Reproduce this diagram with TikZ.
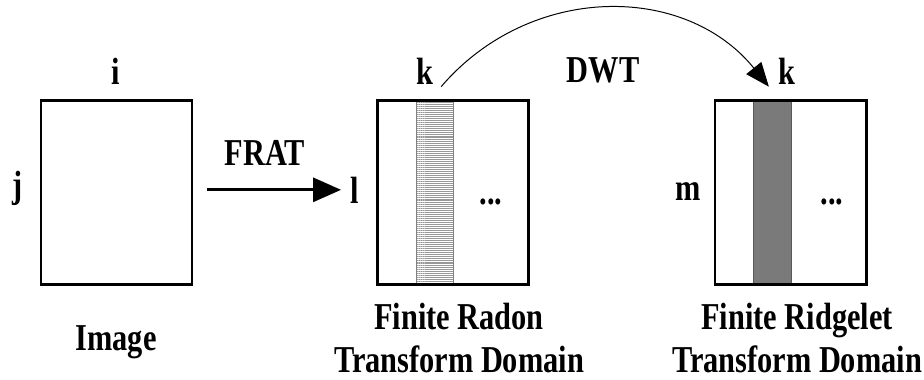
\documentclass[tikz,border=0pt]{standalone}
\usepackage{fontspec}
\setmainfont{Liberation Serif}[FakeStretch=0.8]
\usetikzlibrary{arrows.meta,patterns.meta}

\begin{document}
\begin{tikzpicture}[x=0.025cm, y=-0.025cm, font=\fontsize{27}{30}\selectfont\bfseries]
    \tikzset{
      grid box/.style={draw, line width=2.1pt, minimum width=3.775cm, minimum height=4.575cm, inner sep=0pt},
      idx label/.style={anchor=base, inner sep=1pt},
      caption/.style={align=center, anchor=base, inner sep=0pt},
      big arrow/.style={line width=2.1pt, -{Triangle[length=0.7cm, width=0.6cm]}},
      curve arrow/.style={line width=0.7pt, -{Triangle[length=0.6cm, width=0.48cm]}}
    }
    \useasboundingbox (0,0) rectangle (924,380);
    
    % Columns inside the transform domains
    \fill[pattern={Lines[angle=0, distance=1.4pt, line width=0.5pt]}, pattern color=gray!80] (416,101) rectangle (453,284);
    \draw[gray, line width=0.5pt] (416,101) rectangle (453,284);
    \fill[black!52] (753,101) rectangle (791,284);
    \draw[black!65, line width=0.5pt] (753,101) rectangle (791,284);
    
    % Boxes
    \node[grid box] (img) at (116.5,192.5) {};
    \node[grid box] (radon) at (453,192.5) {};
    \node[grid box] (ridge) at (790.5,192.5) {};
    
    % Index labels
    \node[idx label] (i) at (116,85) {i};
    \node[idx label] (j) at (18,197) {j};
    \node[idx label] (l) at (355,203) {l};
    \node[idx label] (k1) at (425,85) {k};
    \node[idx label] (m) at (688,200) {m};
    \node[idx label] (k2) at (787,85) {k};
    \node[idx label] (dots1) at (491,204) {...};
    \node[idx label] (dots2) at (832,204) {...};
    
    % Transforms
    \node[idx label] (frat) at (265,165) {FRAT};
    \node[idx label] (dwt) at (603,83) {DWT};
    \draw[big arrow] ([xshift=0.33cm]img.east |- l.west) -- ([xshift=-0.2cm]l.west);
    \draw[curve arrow] ([xshift=0.15cm]k1.south east) .. controls (530,-17) and (685,-17) .. ([xshift=-0.2cm]k2.south west);
    
    % Captions
    \node[caption] (cap1) at (116,350) {Image};
    \node[caption] (cap2) at (459,372) {Finite Radon\\Transform Domain};
    \node[caption] (cap3) at (797,372) {Finite Ridgelet\\Transform Domain};
\end{tikzpicture}
\end{document}
